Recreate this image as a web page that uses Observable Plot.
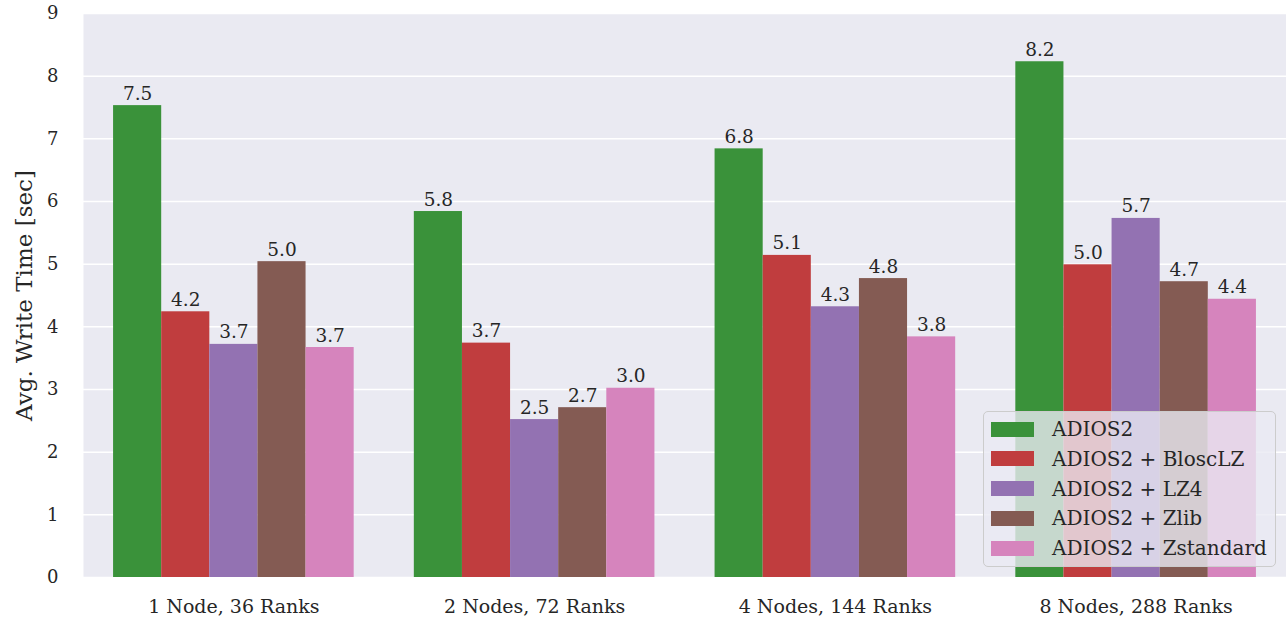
<!DOCTYPE html>
<html>
<head>
<meta charset="utf-8">
<script src="https://cdn.jsdelivr.net/npm/d3@7"></script>
<script src="https://cdn.jsdelivr.net/npm/@observablehq/plot@0.6"></script>
<style>
  body { margin: 0; background: white; }
  #wrap { position: relative; width: 1286px; height: 623px; }
  #legend {
    position: absolute; left: 983px; top: 411px; width: 293px; height: 156px;
    background: rgba(234,234,242,0.8); border: 1.5px solid #cccccc; border-radius: 5px;
    font-family: "DejaVu Serif", serif; font-size: 20px; color: #262626; box-sizing: border-box;
  }
  .row { position: absolute; left: 7px; height: 20px; display: flex; align-items: center; }
  .sw { width: 43px; height: 15px; margin-right: 18px; }
</style>
</head>
<body>
<div id="wrap"></div>
<script>
const groups = ["1 Node, 36 Ranks", "2 Nodes, 72 Ranks", "4 Nodes, 144 Ranks", "8 Nodes, 288 Ranks"];
const series = ["ADIOS2", "ADIOS2 + BloscLZ", "ADIOS2 + LZ4", "ADIOS2 + Zlib", "ADIOS2 + Zstandard"];
const colors = ["#3a923a", "#c03d3e", "#9372b2", "#845b53", "#d684bd"];
const adios2 = [7.53, 5.84, 6.84, 8.23];
const blosclz = [4.24, 3.74, 5.14, 4.99];
const lz4 = [3.72, 2.52, 4.32, 5.73];
const zlib = [5.04, 2.71, 4.77, 4.72];
const zstd = [3.67, 3.02, 3.84, 4.44];
const yTicks = [0, 1, 2, 3, 4, 5, 6, 7, 8, 9];

const seriesValues = [adios2, blosclz, lz4, zlib, zstd];
const barW = 0.8 / series.length;
const rows = [];
groups.forEach((g, gi) => {
  series.forEach((s, si) => {
    const x1 = gi - 0.4 + si * barW;
    rows.push({group: g, series: s, value: seriesValues[si][gi], x1, x2: x1 + barW, xc: x1 + barW / 2});
  });
});

const chart = Plot.plot({
  width: 1286,
  height: 623,
  marginLeft: 83,
  marginRight: 0,
  marginTop: 13,
  marginBottom: 46,
  style: {fontFamily: "DejaVu Serif", fontSize: "18px", color: "#262626", background: "white"},
  x: {domain: [-0.5, 3.5]},
  y: {domain: [0, 9]},
  color: {domain: series, range: colors},
  marks: [
    Plot.frame({fill: "#eaeaf2", stroke: null}),
    Plot.gridY(yTicks, {stroke: "white", strokeOpacity: 1, strokeWidth: 1.5}),
    Plot.rectY(rows, {x1: "x1", x2: "x2", y1: 0, y2: "value", fill: "series"}),
    Plot.text(rows, {x: "xc", y: "value", text: d => d.value.toFixed(1), lineAnchor: "bottom", dy: -6, fontSize: 18.5, fill: "#262626"}),
    Plot.axisY({ticks: yTicks, tickSize: 0, tickPadding: 25, label: null, fontSize: 18}),
    Plot.axisY({ticks: [], tickSize: 0, label: "Avg. Write Time [sec]", labelAnchor: "center", labelArrow: "none", labelOffset: 68, fontSize: 23}),
    Plot.axisX({ticks: [0, 1, 2, 3], tickFormat: i => groups[i], tickSize: 0, tickPadding: 22, label: null, fontSize: 19})
  ]
});
const wrap = document.getElementById("wrap");
wrap.appendChild(chart);

const legend = document.createElement("div");
legend.id = "legend";
series.forEach((s, i) => {
  const r = document.createElement("div");
  r.className = "row";
  r.style.top = (7 + i * 29.8) + "px";
  const sw = document.createElement("div");
  sw.className = "sw";
  sw.style.background = colors[i];
  const t = document.createElement("span");
  t.textContent = s;
  r.appendChild(sw); r.appendChild(t);
  legend.appendChild(r);
});
wrap.appendChild(legend);
</script>
</body>
</html>
